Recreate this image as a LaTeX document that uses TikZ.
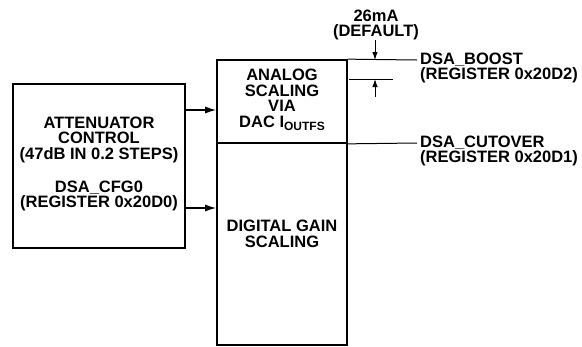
\documentclass[tikz,border=0pt]{standalone}
\usepackage{fontspec}
\setmainfont{Liberation Sans}
\usetikzlibrary{arrows.meta, positioning, calc}

\begin{document}
\begin{tikzpicture}[
  x=1pt, y=-1pt,
  blk/.style={draw, line width=1.7pt, inner sep=0pt},
  txt/.style={align=center, inner sep=0pt, font=\fontsize{16.5}{15.6}\selectfont\bfseries},
  sig/.style={line width=1.2pt, -{Latex[length=11pt, width=7pt]}},
  dim/.style={line width=1pt, -{Latex[length=8pt, width=5.5pt]}},
  tick/.style={line width=1pt}
]
  \useasboundingbox (0,0) rectangle (582,346);

  % blocks
  \node[blk, minimum width=172pt, minimum height=164pt] (atten) at (99,166) {};
  \node[txt] (attenlbl) at (99,164) {
    ATTENUATOR\\
    CONTROL\\
    (47dB IN 0.2 STEPS)\\[17pt]
    DSA\_CFG0\\
    (REGISTER 0x20D0)
  };
  \node[blk, minimum width=130pt, minimum height=83pt] (analog) at (282,101.5) {};
  \node[txt] (analoglbl) at (282,100) {
    ANALOG\\
    SCALING\\
    VIA\\
    DAC I\raisebox{-3.5pt}{\fontsize{12}{12}\selectfont OUTFS}
  };
  \node[blk, minimum width=130pt, minimum height=202pt] (digital) at (282,244) {};
  \node[txt] (digitallbl) at (282,234) {DIGITAL GAIN\\SCALING};

  % inputs
  \draw[sig] (atten.east |- 0,110) -- (analog.west |- 0,110);
  \draw[sig] (atten.east |- 0,208) -- (digital.west |- 0,208);

  % boost range
  \coordinate (boostend) at (417,60);
  \coordinate (trimA) at (349,79);
  \coordinate (trimB) at (393,79);
  \draw[tick] (analog.north east) -- (boostend);
  \draw[tick] (trimA) -- (trimB);
  \coordinate (dnA) at (375,40);
  \coordinate (upA) at (375,97);
  \draw[dim] (dnA) -- (dnA |- boostend);
  \draw[dim] (upA) -- (upA |- trimA);
  \node[txt] (deflbl) at (376,25) {26mA\\(DEFAULT)};
  \node[txt, anchor=west, align=left] (boostlbl) at (420,68) {DSA\_BOOST\\(REGISTER 0x20D2)};

  % cutover
  \coordinate (cutend) at (417,143);
  \draw[tick] (analog.south east) -- (cutend);
  \node[txt, anchor=west, align=left] (cutlbl) at (420,151) {DSA\_CUTOVER\\(REGISTER 0x20D1)};
\end{tikzpicture}
\end{document}
